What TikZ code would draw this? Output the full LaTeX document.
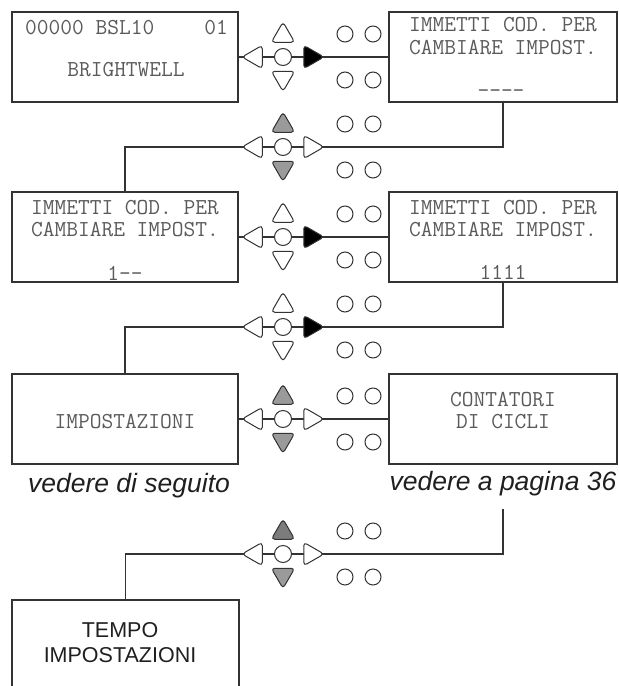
\documentclass[tikz,border=0pt]{standalone}
\usepackage{fontspec}
\usetikzlibrary{shapes.geometric}
\newfontfamily\sansf{Liberation Sans}
\definecolor{ln}{HTML}{333333}
\definecolor{tx}{HTML}{5A5A5A}
\definecolor{gA}{HTML}{9A9A9A}
\definecolor{gB}{HTML}{7C7C7C}
\pgfdeclarelayer{bg}\pgfsetlayers{bg,main}
\tikzset{
 box/.style={draw=ln, line width=1.2pt, minimum width=226pt, minimum height=90pt, inner sep=0pt},
 rbox/.style={box, minimum width=228pt},
 mono/.style={font=\ttfamily\fontsize{22.8}{27}\selectfont, text=tx, inner sep=0pt},
 note/.style={font=\sansf\itshape\fontsize{26.5}{30}\selectfont, text=black!88, inner sep=0pt},
 plain/.style={font=\sansf\fontsize{21.5}{25}\selectfont, text=black!88, inner sep=0pt},
 tri/.style={regular polygon, regular polygon sides=3, draw=ln, line width=1pt, fill=white, minimum size=27pt, inner sep=0pt, rounded corners=3.5pt},
 knob/.style={circle, draw=ln, line width=1pt, fill=white, minimum size=17pt, inner sep=0pt},
 dot/.style={circle, draw=ln, line width=1pt, minimum size=16pt, inner sep=0pt},
 wire/.style={draw=ln, line width=1.2pt},
 pics/pad/.style n args={4}{code={
   \node[knob] (-c) at (0,0) {};
   \node[tri, shape border rotate=90, fill=#1] (-l) at (-27.5,0) {};
   \node[tri, shape border rotate=270, fill=#2] (-r) at (27.5,0) {};
   \node[tri, fill=#3] (-u) at (0,-21.5) {};
   \node[tri, shape border rotate=180, fill=#4] (-d) at (0,21) {};
   \node[dot] (-a) at (62,-23) {};
   \node[dot] (-b) at (90,-23) {};
   \node[dot] (-e) at (62,23) {};
   \node[dot] (-f) at (90,23) {};
 }}
}
\begin{document}
\begin{tikzpicture}[x=1pt,y=-1pt]
\useasboundingbox (0,0) rectangle (619,686);
% boxes
\node[box]  (b1) at (125,57) {};
\node[rbox] (b2) at (503,57) {};
\node[box]  (b3) at (125,237) {};
\node[rbox] (b4) at (503,237) {};
\node[box]  (b5) at (125,419) {};
\node[rbox] (b6) at (503,419) {};
\node[box, minimum width=227pt, minimum height=92pt] (b7) at (125.5,646) {};
% pads
\pic (p1) at (283,57)  {pad={white}{black}{white}{white}};
\pic (p2) at (283,147) {pad={white}{white}{gA}{gA}};
\pic (p3) at (283,237) {pad={white}{black}{white}{white}};
\pic (p4) at (283,327) {pad={white}{black}{white}{white}};
\pic (p5) at (283,419) {pad={white}{white}{gA}{gA}};
\pic (p6) at (283,554) {pad={white}{white}{gB}{gA}};
\coordinate (top6) at (503,509);
% texts
\node[mono, anchor=base west] (t1a) at (25,34) {00000 BSL10};
\node[mono, anchor=base east] (t1b) at (228,34) {01};
\node[mono, anchor=base] (t1c) at (126,76) {BRIGHTWELL};
\node[mono, anchor=base] (t2a) at (503,31) {IMMETTI COD. PER};
\node[mono, anchor=base] (t2b) at (503,54) {CAMBIARE IMPOST.};
\node[mono, anchor=base] (t2c) at (501,97) {-\kern0pt-\kern0pt-\kern0pt-};
\node[mono, anchor=base] (t3a) at (125,214) {IMMETTI COD. PER};
\node[mono, anchor=base] (t3b) at (125,236) {CAMBIARE IMPOST.};
\node[mono, anchor=base] (t3c) at (125,280) {1-\kern0pt-};
\node[mono, anchor=base] (t4a) at (503,214) {IMMETTI COD. PER};
\node[mono, anchor=base] (t4b) at (503,236) {CAMBIARE IMPOST.};
\node[mono, anchor=base] (t4c) at (503,279) {1111};
\node[mono, anchor=base] (t5) at (125,428) {IMPOSTAZIONI};
\node[mono, anchor=base] (t6a) at (503,406) {CONTATORI};
\node[mono, anchor=base] (t6b) at (503,428) {DI CICLI};
\node[note, anchor=base] (n1) at (129,492) {vedere di seguito};
\node[note, anchor=base] (n2) at (503,490) {vedere a pagina 36};
\node[plain, anchor=base] (t7a) at (120,637) {TEMPO};
\node[plain, anchor=base] (t7b) at (120,662) {IMPOSTAZIONI};
% connectors
\begin{pgfonlayer}{bg}
\draw[wire] (b1.east) -- (p1-l.center) -- (p1-c.center) -- (p1-r.center) -- (b2.west);
\draw[wire] (b2.south) |- (p2-r.center) -- (p2-c.center) -- (p2-l.center) -| (b3.north);
\draw[wire] (b3.east) -- (p3-l.center) -- (p3-c.center) -- (p3-r.center) -- (b4.west);
\draw[wire] (b4.south) |- (p4-r.center) -- (p4-c.center) -- (p4-l.center) -| (b5.north);
\draw[wire] (b5.east) -- (p5-l.center) -- (p5-c.center) -- (p5-r.center) -- (b6.west);
\draw[wire] (top6) |- (p6-r.center) -- (p6-c.center) -- (p6-l.center) -| (b7.north);
\end{pgfonlayer}
\end{tikzpicture}
\end{document}
